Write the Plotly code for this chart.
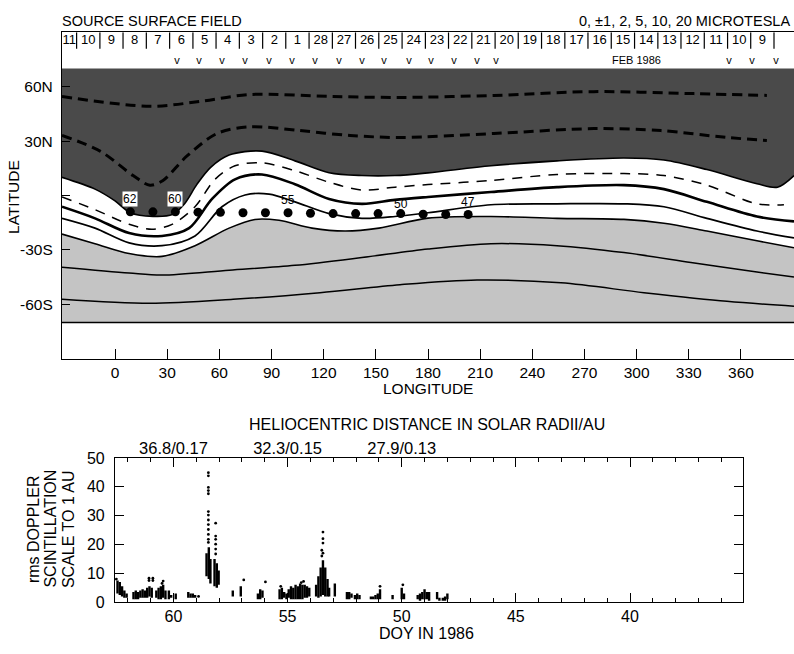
import plotly.graph_objects as go

FONT = "Liberation Sans, Arial, Helvetica, sans-serif"
W, H = 794, 654
DARK = "#4a4a4a"
LIGHT = "#c4c4c4"

# ---------------- Top panel: source surface field (longitude / latitude) ----------------
lon_ticks = [0, 30, 60, 90, 120, 150, 180, 210, 240, 270, 300, 330, 360]
lat_ticks = [-60, -30, 0, 30, 60]
lat_tick_text = ["-60S", "-30S", "", "30N", "60N"]
lon_range = [-30.5, 390.5]
lat_range = [-90, 90]
shade_lat = 70

# boundary of the dark (northern) shaded region
curve_a_lon = [-30.5, -11.5, 0.0, 8.8, 21.8, 33.0, 40.0, 47.0, 55.0, 65.6, 84.5, 103.5, 123.1, 142.0, 161.0,
               180.0, 216.2, 254.2, 292.7, 315.7, 340.4, 369.2, 381.0, 390.5]
curve_a_lat = [10.0, 3.5, -3.0, -9.5, -11.5, -10.5, -4.5, 6.0, 15.5, 22.3, 24.5, 19.1, 12.6, 11.0, 11.0,
               12.5, 16.4, 19.1, 20.7, 19.6, 14.3, 6.5, 4.6, 11.0]
# dashed neutral line
curve_b_lon = [-30.5, -11.5, 8.1, 21.3, 32.8, 46.0, 57.5, 69.0, 84.5, 103.5, 123.1, 142.0, 161.0,
               180.0, 216.2, 254.2, 292.7, 315.7, 340.4, 369.2, 384.7]
curve_b_lat = [-0.8, -7.8, -15.9, -18.6, -15.9, -6.2, 8.9, 16.4, 18.0, 13.7, 7.3, 3.0, 4.6,
               6.0, 8.3, 11.6, 12.1, 11.0, 5.7, -4.6, -5.1]
# bold contour
curve_c_lon = [-30.5, -11.5, 8.1, 27.0, 42.6, 55.8, 69.0, 84.5, 103.5, 123.1, 142.0, 161.0, 180.0,
               216.2, 254.2, 292.7, 315.7, 340.4, 369.2, 390.5]
curve_c_lat = [-6.2, -12.6, -20.7, -22.3, -18.0, -1.9, 8.9, 11.6, 6.2, -1.9, -4.6, -2.4, -0.8,
               1.9, 4.6, 5.7, 3.5, -3.5, -11.6, -14.3]
# thin contour
curve_d_lon = [-30.5, -11.5, 8.1, 27.0, 46.0, 61.5, 74.8, 88.6, 103.5, 123.1, 142.0, 161.0, 180.0,
               216.2, 254.2, 292.7, 315.7, 340.4, 369.2, 390.5]
curve_d_lat = [-12.6, -18.0, -26.1, -27.7, -22.3, -6.2, 0.3, 0.8, -3.5, -10.0, -12.6, -11.6, -9.5,
               -5.1, -4.6, -4.6, -6.2, -12.6, -19.6, -23.4]
# boundary of the light (southern) shaded region
curve_e_lon = [-30.5, -11.5, 8.1, 27.0, 46.0, 65.6, 80.5, 94.3, 113.3, 132.3, 151.8, 180.0, 216.2,
               254.2, 292.7, 315.7, 340.4, 369.2, 390.5]
curve_e_lat = [-21.3, -26.6, -32.0, -33.6, -27.7, -18.0, -13.2, -13.7, -18.0, -19.6, -18.0, -12.5, -11.6,
               -12.6, -13.2, -15.3, -19.6, -25.0, -28.8]
# contours inside light region
curve_f_lon = [-30.5, 8.1, 27.0, 65.6, 103.5, 142.0, 180.0, 216.2, 254.2, 292.7, 331.2, 369.2, 390.5]
curve_f_lat = [-39.6, -42.8, -43.9, -41.2, -38.5, -34.2, -29.5, -26.6, -27.7, -31.5, -36.9, -42.2, -44.9]
curve_g_lon = [-30.5, 20.1, 67.9, 117.9, 163.9, 208.2, 256.5, 304.2, 351.9, 390.5]
curve_g_lat = [-57.3, -59.5, -57.3, -53.6, -49.2, -46.6, -48.2, -53.6, -58.4, -61.1]
# dashed contours inside dark region
dash1_lon = [-30.5, 20.1, 48.9, 77.6, 125.4, 163.9, 217.9, 275.4, 333.0, 374.9]
dash1_lat = [54.6, 49.2, 51.9, 55.7, 54.6, 54.1, 55.2, 57.3, 56.2, 55.2]
dash2_lon = [-30.5, -8.6, 10.4, 20.1, 27.6, 41.4, 58.7, 77.6, 106.4, 135.1, 163.9, 217.9, 275.4,
             314.0, 351.9, 374.9]
dash2_lat = [33.1, 24.5, 11.0, 5.7, 8.3, 21.8, 34.2, 37.9, 35.8, 33.1, 32.0, 34.2, 36.9,
             35.8, 32.0, 30.4]

# spacecraft footpoints (day of year)
dot_doy = [62, 61, 60, 59, 58, 57, 56, 55, 54, 53, 52, 51, 50, 49, 48, 47]
dot_lon = [8.8, 21.8, 34.7, 47.7, 60.6, 73.6, 86.5, 99.5, 112.4, 125.4, 138.4, 151.3, 164.3, 177.2, 190.2, 203.1]
dot_lat = [-9.0, -9.0, -9.0, -9.2, -9.3, -9.5, -9.5, -9.5, -9.8, -10.0, -10.0, -10.0, -10.0, -10.3, -10.5, -10.5]
label_doy = [62, 60, 55, 50, 47]
boxed_doy = [62, 60]

# date strip along the top
box_day_labels = ["11", "10", "9", "8", "7", "6", "5", "4", "3", "2", "1", "28", "27", "26", "25", "24",
                  "23", "22", "21", "20", "19", "18", "17", "16", "15", "14", "13", "12", "11", "10", "9"]
box_day_lon = [-26.3, -15.4, -2.1, 11.3, 24.7, 38.1, 51.5, 64.8, 78.2, 91.6, 104.9, 118.3, 131.7, 145.0,
               158.4, 171.8, 185.2, 198.5, 211.9, 225.3, 238.6, 252.0, 265.4, 278.7, 292.1, 305.5, 318.9,
               332.2, 345.6, 359.0, 372.3]
box_sep_lon = [-22.1, -8.7, 4.6, 18.0, 31.4, 44.8, 58.1, 71.5, 84.9, 98.2, 111.6, 125.0, 138.3, 151.7,
               165.1, 178.5, 191.8, 205.2, 218.6, 231.9, 245.3, 258.7, 272.0, 285.4, 298.8, 312.2, 325.5,
               338.9, 352.3, 365.6, 379.0]
v_lon = [35.7, 48.3, 61.5, 74.8, 88.6, 101.8, 115.0, 128.8, 142.0, 154.7, 169.1, 181.7, 194.9, 208.2,
         219.1, 353.1, 366.3, 380.1]

# ---------------- Bottom panel: Doppler scintillation ----------------
doy_ticks = [60, 55, 50, 45, 40]
dist_labels = ["36.8/0.17", "32.3/0.15", "27.9/0.13", "", ""]
scint_ticks = [0, 10, 20, 30, 40, 50]
doy_range = [62.56, 35.05]
scint_range = [0, 50]

# dense data columns: day of year, low value, high value
col_doy = [62.45, 62.35, 62.25, 62.15, 62.05,
           61.75, 61.65, 61.55, 61.45, 61.35, 61.25, 61.15, 61.05, 60.95,
           60.75, 60.65, 60.55, 60.45, 60.35,
           60.2, 60.1, 59.9,
           59.35, 59.25, 59.15, 59.05,
           58.55, 58.45, 58.38, 58.2, 58.1, 58.02,
           57.4, 57.05,
           56.3, 56.2, 56.1,
           55.35, 55.25, 55.15, 55.05, 54.95, 54.85, 54.75, 54.65, 54.55, 54.45, 54.35, 54.25, 54.15, 54.05,
           53.75, 53.65, 53.55, 53.45, 53.35, 53.25, 53.18,
           52.93,
           52.4, 52.3, 52.2, 52.05, 51.95, 51.85,
           51.35, 51.25, 51.15, 51.05, 50.95,
           50.4, 50.0, 49.9,
           49.3, 49.2, 49.1, 49.0, 48.9, 48.8,
           48.45, 48.35, 48.2, 48.1, 48.0]
col_lo = [3.0, 2.5, 2.0, 1.5, 1.5,
          1.0, 1.0, 1.0, 1.5, 1.5, 1.5, 1.5, 2.0, 1.5,
          1.5, 1.0, 1.0, 1.5, 1.0,
          1.0, 1.5, 1.0,
          1.5, 1.5, 1.5, 1.5,
          9.0, 8.0, 6.5, 5.5, 5.0, 6.0,
          2.0, 2.0,
          1.0, 1.0, 1.5,
          1.0, 1.0, 1.5, 1.0, 1.5, 1.0, 1.0, 1.0, 1.0, 1.0, 1.0, 1.5, 1.5, 2.0,
          2.0, 1.5, 2.0, 2.5, 2.0, 2.0, 2.0,
          2.0,
          1.0, 1.0, 1.5, 1.0, 1.0, 1.0,
          1.0, 1.0, 1.0, 1.0, 1.0,
          1.0, 1.0, 1.0,
          1.0, 0.5, 1.0, 1.0, 1.0, 0.5,
          1.0, 0.5, 0.5, 0.5, 1.0]
col_hi = [7.5, 7.0, 5.5, 4.0, 3.0,
          3.5, 4.0, 3.5, 4.0, 4.5, 4.0, 5.0, 5.5, 5.0,
          4.0, 5.0, 5.5, 6.0, 4.0,
          4.0, 2.5, 3.0,
          3.5, 3.0, 3.0, 2.5,
          17.0, 19.0, 15.0, 15.0, 13.5, 11.0,
          4.0, 5.5,
          3.0, 4.5, 4.0,
          4.5, 5.0, 3.5, 3.0, 4.5, 5.5, 5.0, 6.0, 5.5, 6.5, 6.0, 6.0, 5.5, 5.0,
          6.0, 9.0, 12.0, 14.5, 12.0, 8.0, 5.0,
          6.5,
          3.5, 3.5, 3.0, 2.5, 3.0, 2.5,
          2.0, 2.0, 2.5, 3.0, 4.5,
          2.5, 5.0, 3.0,
          2.5, 3.0, 3.5, 4.5, 3.5, 3.5,
          3.5, 1.5, 1.5, 2.0, 3.0]
# isolated measurements
pt_doy = [62.5, 61.07, 61.07, 60.9, 60.9, 60.45, 60.5, 58.9,
          58.47, 58.47, 58.47, 58.47, 58.47, 58.47, 58.47, 58.47, 58.47, 58.47, 58.47, 58.47, 58.47,
          58.15, 58.15, 58.15, 58.15, 58.15, 58.15,
          56.92, 55.97, 54.3, 54.4, 55.3,
          53.45, 53.45, 53.45, 53.5, 53.45, 53.5,
          50.95, 49.95]
pt_val = [8.0, 8.3, 7.5, 8.3, 7.5, 7.3, 6.5, 2.0,
          44.9, 43.8, 39.8, 38.7, 37.6, 31.4, 30.2, 28.5, 26.9, 25.2, 23.5, 21.8, 20.7,
          27.4, 22.9, 21.8, 20.1, 18.4, 16.7,
          7.7, 7.0, 7.2, 6.8, 5.5,
          24.3, 22.0, 20.5, 18.0, 17.0, 16.0,
          5.5, 6.0]

fig = go.Figure()

# shaded regions
fig.add_trace(go.Scatter(x=lon_range, y=[shade_lat, shade_lat], mode="lines", line=dict(width=0),
                         hoverinfo="skip", showlegend=False))
fig.add_trace(go.Scatter(x=curve_a_lon, y=curve_a_lat, mode="lines", fill="tonexty", fillcolor=DARK,
                         line=dict(width=0, shape="spline", smoothing=0.9), hoverinfo="skip", showlegend=False))
fig.add_trace(go.Scatter(x=lon_range, y=[-shade_lat, -shade_lat], mode="lines", line=dict(width=0),
                         hoverinfo="skip", showlegend=False))
fig.add_trace(go.Scatter(x=curve_e_lon, y=curve_e_lat, mode="lines", fill="tonexty", fillcolor=LIGHT,
                         line=dict(width=0, shape="spline", smoothing=0.9), hoverinfo="skip", showlegend=False))

def add_line(xs, ys, width, dash="solid"):
    fig.add_trace(go.Scatter(x=xs, y=ys, mode="lines",
                             line=dict(color="black", width=width, dash=dash, shape="spline", smoothing=0.9),
                             hoverinfo="skip", showlegend=False))

add_line(curve_a_lon, curve_a_lat, 1.6)
add_line(curve_b_lon, curve_b_lat, 1.5, "10px,8px")
add_line(curve_c_lon, curve_c_lat, 2.6)
add_line(curve_d_lon, curve_d_lat, 1.7)
add_line(curve_e_lon, curve_e_lat, 1.6)
add_line(curve_f_lon, curve_f_lat, 1.5)
add_line(curve_g_lon, curve_g_lat, 1.5)
add_line(dash1_lon, dash1_lat, 3.0, "10px,6px")
add_line(dash2_lon, dash2_lat, 3.0, "10px,6px")

# bottom edge of light shading
fig.add_trace(go.Scatter(x=lon_range, y=[-shade_lat, -shade_lat], mode="lines",
                         line=dict(color="black", width=1.5), hoverinfo="skip", showlegend=False))

# date strip separators and labels
sx, sy = [], []
for s in box_sep_lon:
    sx += [s, s, None]
    sy += [81, 90, None]
fig.add_trace(go.Scatter(x=sx, y=sy, mode="lines", line=dict(color="black", width=1.2),
                         hoverinfo="skip", showlegend=False))
fig.add_trace(go.Scatter(x=box_day_lon, y=[85.5] * len(box_day_lon), mode="text", text=box_day_labels,
                         textfont=dict(family=FONT, size=13, color="black"), hoverinfo="skip", showlegend=False))
fig.add_trace(go.Scatter(x=v_lon, y=[73.8] * len(v_lon), mode="text", text=["v"] * len(v_lon),
                         textfont=dict(family=FONT, size=11, color="black"), hoverinfo="skip", showlegend=False))

# footpoint dots
fig.add_trace(go.Scatter(x=dot_lon, y=dot_lat, mode="markers", marker=dict(color="black", size=9),
                         hoverinfo="skip", showlegend=False))

# ---------------- bottom panel traces ----------------
cx, cy = [], []
for d, lo, hi in zip(col_doy, col_lo, col_hi):
    cx += [d, d, None]
    cy += [lo, hi, None]
fig.add_trace(go.Scatter(x=cx, y=cy, mode="lines", line=dict(color="black", width=2.4),
                         xaxis="x2", yaxis="y2", hoverinfo="skip", showlegend=False))
fig.add_trace(go.Scatter(x=pt_doy, y=pt_val, mode="markers", marker=dict(color="black", size=2.8),
                         xaxis="x2", yaxis="y2", hoverinfo="skip", showlegend=False))
# helpers so the overlay axes are drawn
fig.add_trace(go.Scatter(x=[60], y=[-100], mode="markers", marker=dict(size=1, opacity=0),
                         xaxis="x3", yaxis="y2", hoverinfo="skip", showlegend=False))
fig.add_trace(go.Scatter(x=[60], y=[-100], mode="markers", marker=dict(size=1, opacity=0),
                         xaxis="x2", yaxis="y3", hoverinfo="skip", showlegend=False))

annotations = []
def px(x):
    return x / W
def py(y):
    return 1 - y / H

for d, lo, la in zip(dot_doy, dot_lon, dot_lat):
    if d in label_doy:
        boxed = d in boxed_doy
        annotations.append(dict(x=lo, y=la, xref="x", yref="y", text=str(d), showarrow=False,
                                xanchor="center", yanchor="middle",
                                yshift=13 if d != 50 else 10,
                                bgcolor="white" if boxed else None,
                                borderpad=0,
                                font=dict(family=FONT, size=12, color="black")))

def note(x, y, text, size, angle=0, xanchor="center", xref="paper", yref="paper"):
    return dict(x=x, y=y, xref=xref, yref=yref, text=text, textangle=angle, showarrow=False,
                xanchor=xanchor, yanchor="middle", font=dict(family=FONT, size=size, color="black"))

annotations += [
    note(px(60), py(13), "SOURCE SURFACE FIELD", 14.5, xanchor="left"),
    note(px(792), py(13), "0, ±1, 2, 5, 10, 20 MICROTESLA", 14.5, xanchor="right"),
    note(300, 74.6, "FEB 1986", 11, xref="x", yref="y"),
    note(px(14), py(194), "LATITUDE", 15.5, angle=-90),
    note(px(428), py(391), "LONGITUDE", 15.5),
    note(px(427), py(428), "HELIOCENTRIC DISTANCE IN SOLAR RADII/AU", 16),
    note(px(427), py(642), "DOY IN 1986", 16),
    note(px(33), py(535), "rms DOPPLER", 16, angle=-90),
    note(px(50.5), py(535), "SCINTILLATION", 16, angle=-90),
    note(px(68), py(535), "SCALE TO 1 AU", 16, angle=-90),
]

axis_common = dict(showgrid=False, zeroline=False, showline=True, linecolor="black", linewidth=1.2,
                   tickcolor="black", tickwidth=1.2, ticks="inside")

fig.update_layout(
    width=W, height=H, autosize=False,
    margin=dict(l=0, r=0, t=0, b=0),
    paper_bgcolor="white", plot_bgcolor="white",
    font=dict(family=FONT, color="black"),
    showlegend=False,
    xaxis=dict(domain=[px(62), 1.0], range=lon_range, tickvals=lon_ticks, ticklen=10, mirror=True,
               anchor="y", tickfont=dict(size=15.5), **axis_common),
    yaxis=dict(domain=[py(360), py(25)], range=lat_range, tickvals=lat_ticks, ticktext=lat_tick_text,
               ticklen=8, anchor="x", tickfont=dict(size=15.5), ticklabelstandoff=5, **axis_common),
    xaxis2=dict(domain=[px(115), px(743)], range=doy_range, tickvals=doy_ticks, ticklen=9, mirror=True,
                anchor="y2", tickfont=dict(size=16),
                minor=dict(dtick=1, ticks="inside", ticklen=4, tickcolor="black", tickwidth=1.2),
                **axis_common),
    xaxis3=dict(overlaying="x2", side="top", anchor="y2", range=doy_range, tickvals=doy_ticks,
                ticktext=dist_labels, ticklen=9, tickfont=dict(size=16.5), showline=False,
                showgrid=False, zeroline=False, ticks="inside", tickcolor="black", tickwidth=1.2,
                minor=dict(dtick=1, ticks="inside", ticklen=4, tickcolor="black", tickwidth=1.2)),
    yaxis2=dict(domain=[py(610), py(462)], range=scint_range, tickvals=scint_ticks, ticklen=9, mirror=True,
                anchor="x2", tickfont=dict(size=16), ticklabelstandoff=6, **axis_common),
    yaxis3=dict(overlaying="y2", side="right", anchor="x2", range=scint_range, tickvals=scint_ticks,
                ticklen=9, showticklabels=False, showline=False, showgrid=False, zeroline=False,
                ticks="inside", tickcolor="black", tickwidth=1.2),
    annotations=annotations,
)

fig.write_html(
    "out.html",
    config={"displayModeBar": False},
    post_script=("document.body.style.margin='0px';"
                 "var d=document.getElementById('{plot_id}');"
                 "d.style.position='fixed';d.style.left='0px';d.style.top='0px';"),
)
